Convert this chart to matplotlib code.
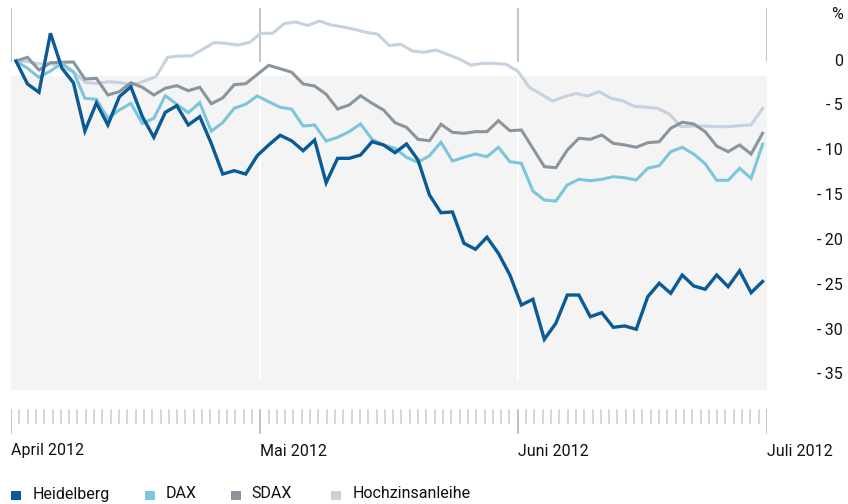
import numpy as np
import matplotlib
matplotlib.use("Agg")
import matplotlib.pyplot as plt
from matplotlib import font_manager
from matplotlib.patches import Rectangle
from matplotlib.transforms import blended_transform_factory

# performance in % since start of April 2012 (one value per trading day)
heidelberg = [0, -2.56, -3.49, 3.09, -0.81, -2.42, -7.80, -4.68, -7.13, -3.98,
              -2.87, -6.19, -8.51, -5.72, -4.98, -7.13, -6.21, -9.18, -12.60, -12.23,
              -12.60, -10.56, -9.36, -8.28, -8.90, -10.00, -8.81, -13.57, -10.85, -10.85,
              -10.48, -9.00, -9.36, -10.22, -9.25, -11.04, -14.94, -16.91, -16.83, -20.32,
              -20.99, -19.65, -21.44, -23.86, -27.20, -26.57, -31.03, -29.24, -26.09, -26.09,
              -28.51, -28.06, -29.69, -29.54, -29.91, -26.28, -24.78, -25.90, -23.86, -25.08,
              -25.45, -23.86, -25.16, -23.38, -25.83, -24.58]
dax = [0, -0.81, -1.82, -1.11, -0.26, -1.19, -4.16, -4.27, -6.39, -5.46,
       -4.72, -6.95, -6.39, -3.87, -4.83, -5.76, -4.65, -7.83, -6.86, -5.27,
       -4.82, -3.90, -4.54, -5.16, -5.37, -7.25, -7.13, -8.92, -8.51, -7.88,
       -7.02, -8.73, -9.36, -9.73, -10.74, -11.29, -10.56, -9.06, -11.15, -10.74,
       -10.37, -10.67, -9.62, -11.23, -11.40, -14.49, -15.50, -15.61, -13.82, -13.19,
       -13.34, -13.19, -12.90, -13.01, -13.27, -11.96, -11.67, -10.11, -9.62, -10.37,
       -11.45, -13.30, -13.30, -11.96, -13.08, -9.28]
sdax = [0, 0.41, -1.00, -0.19, -0.14, -0.11, -2.01, -1.93, -3.79, -3.42,
        -2.42, -2.93, -3.79, -3.04, -2.75, -3.31, -2.93, -4.76, -4.12, -2.64,
        -2.53, -1.51, -0.48, -0.86, -1.25, -2.56, -2.79, -3.71, -5.35, -4.91,
        -3.87, -4.72, -5.46, -6.88, -7.39, -8.73, -8.89, -7.06, -7.95, -8.06,
        -7.88, -7.88, -6.66, -7.77, -7.69, -9.73, -11.78, -11.90, -9.92, -8.62,
        -8.73, -8.25, -9.18, -9.36, -9.62, -9.11, -9.00, -7.50, -6.83, -7.02,
        -7.88, -9.48, -10.11, -9.36, -10.37, -8.06]
hochzins = [0, -0.08, -0.33, -0.33, -0.63, -1.30, -2.42, -2.49, -2.31, -2.42,
            -2.68, -2.23, -1.75, 0.41, 0.56, 0.56, 1.30, 2.06, 1.97, 1.78,
            2.06, 3.09, 3.09, 4.18, 4.35, 3.96, 4.46, 4.01, 3.81, 3.53,
            3.20, 2.99, 1.73, 1.86, 1.11, 0.97, 1.23, 0.74, 0.22, -0.45,
            -0.26, -0.26, -0.37, -1.11, -2.93, -3.68, -4.46, -3.98, -3.62, -3.90,
            -3.42, -4.16, -4.43, -5.07, -5.15, -5.27, -5.91, -7.32, -7.25, -7.25,
            -7.32, -7.32, -7.21, -7.13, -5.30]

series_names = ["Heidelberg", "DAX", "SDAX", "Hochzinsanleihe"]
series_colors = ["#0a5a96", "#7cc6dc", "#8a959e", "#c6d2e0"]

month_labels = ["April 2012", "Mai 2012", "Juni 2012", "Juli 2012"]
month_days = [0, 30, 61, 91]          # days since 1 April
y_ticks = [0, -5, -10, -15, -20, -25, -30, -35]


def pick_font():
    for name in ["Liberation Sans Narrow", "Roboto", "DejaVu Sans"]:
        try:
            font_manager.findfont(name, fallback_to_default=False)
            return name
        except Exception:
            pass
    return "DejaVu Sans"


plt.rcParams["font.family"] = [pick_font(), "DejaVu Sans"]
text_col = "#111111"
fs = 11.5

W, H = 848, 504
fig = plt.figure(figsize=(W / 100, H / 100), dpi=100)

# main plot area: x 11..767 px, y 8..390 px
ax = fig.add_axes([11 / W, 1 - 390 / H, 756 / W, 382 / H])
ax.set_xlim(0, 91)
ax.set_ylim(-36.68, 5.91)
ax.axis("off")

shade_top = -1.67
ax.axhspan(-36.68, shade_top, color="#f4f4f4", lw=0, zorder=0)
for d in month_days:
    ax.plot([d, d], [0, 5.91], color="#b9b9b9", lw=1.2, zorder=1)
for d in month_days[1:3]:
    ax.plot([d, d], [-35.6, shade_top], color="white", lw=1.3, zorder=1)

start_day, end_day = 0.6, 90.47
data = [heidelberg, dax, sdax, hochzins]
zorders = [6, 5, 4, 3]
widths = [2.4, 2.2, 2.2, 2.2]
for vals, col, z, lw in zip(data, series_colors, zorders, widths):
    xs = np.linspace(start_day, end_day, len(vals))
    ax.plot(xs, vals, color=col, lw=lw, zorder=z, solid_joinstyle="miter")

# y labels on the right
tr = blended_transform_factory(ax.transAxes, ax.transData)
label_x = (843 - 11) / 756
for v in y_ticks:
    txt = "0" if v == 0 else "-\u2009" + str(abs(v))
    ax.text(label_x, v, txt, transform=tr, ha="right", va="center",
            fontsize=fs, color=text_col, clip_on=False)
ax.text(label_x, 5.13, "%", transform=tr, ha="right", va="center",
        fontsize=fs, color=text_col, clip_on=False)

# daily tick ruler
ax2 = fig.add_axes([11 / W, 1 - 435 / H, 756 / W, 30 / H])
ax2.set_xlim(0, 91)
ax2.set_ylim(0, 1)
ax2.axis("off")
for d in range(92):
    if d in month_days:
        ax2.plot([d, d], [0.067, 0.833], color="#b0b0b0", lw=1.1)
    else:
        ax2.plot([d, d], [0.4, 0.833], color="#cccccc", lw=1.1)

for lab, d in zip(month_labels, month_days):
    fig.text((11 + d * 756 / 91) / W, 1 - 451 / H, lab, ha="left", va="center",
             fontsize=fs, color=text_col)

# legend
sq_x = [11, 145, 231, 331]
txt_x = [33, 166, 251, 353]
for name, col, sx, tx in zip(series_names, series_colors, sq_x, txt_x):
    fig.add_artist(Rectangle((sx / W, 1 - 499.5 / H), 10 / W, 9 / H,
                             transform=fig.transFigure, color=col, lw=0))
    fig.text(tx / W, 1 - 494 / H, name, ha="left", va="center",
             fontsize=fs, color=text_col)

fig.savefig("out.png", dpi=100)
